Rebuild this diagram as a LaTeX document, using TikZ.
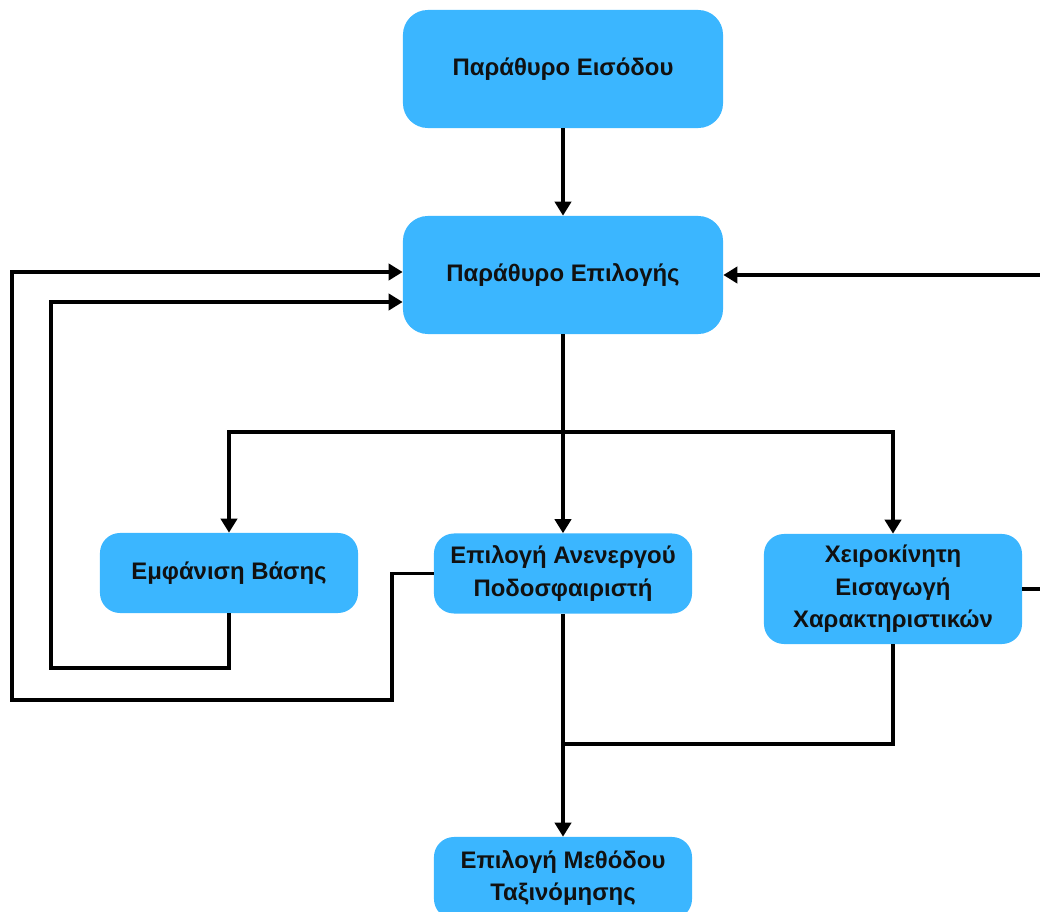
\documentclass[tikz,border=0pt]{standalone}
\usepackage{fontspec}
\setmainfont{Liberation Sans}
\usetikzlibrary{arrows.meta,calc}
\definecolor{boxblue}{RGB}{59,182,255}
\definecolor{ink}{RGB}{17,17,17}

\begin{document}
\begin{tikzpicture}[x=0.025cm,y=-0.025cm,
  box/.style={fill=boxblue, draw=none, rounded corners=0.5cm, align=center,
    text=ink, font=\fontsize{17}{23}\selectfont\bfseries,
    minimum width=6.45cm, minimum height=2cm, inner sep=2pt},
  bigbox/.style={box, rounded corners=0.62cm, minimum width=8cm, minimum height=2.95cm},
  link/.style={draw=black, line width=2.5pt},
  arr/.style={link, -{Triangle[length=10pt,width=11.5pt]}}]
\useasboundingbox (0,0) rectangle (1040,912);
\clip (0,0) rectangle (1040,912);

\node[bigbox] (entry) at (563,69) {Παράθυρο Εισόδου};
\node[bigbox] (select) at (563,275) {Παράθυρο Επιλογής};
\node[box] (base) at (229,573) {Εμφάνιση Βάσης};
\node[box] (inactive) at (563,573.5) {Επιλογή Ανενεργού\\Ποδοσφαιριστή};
\node[box, minimum height=2.75cm] (manual) at (893,589) {Χειροκίνητη\\Εισαγωγή\\Χαρακτηριστικών};
\node[box, minimum height=2.05cm] (method) at (563,878) {Επιλογή Μεθόδου\\Ταξινόμησης};

\coordinate (split) at (563,432);
\coordinate (merge) at (563,744);

\draw[arr] (entry) -- (select);
\draw[arr] (select) -- (inactive);
\draw[arr] (split) -| (base);
\draw[arr] (split) -| (manual);
\draw[arr] (base.south) |- (51,668) |- ($(select.west)+(0,27)$);
\draw[arr] (inactive.west) -- (392,573.5) |- (12,700) |- ($(select.west)+(0,-3)$);
\draw[arr] (manual.east) -- ++(40,0) |- (select.east);
\draw[arr] (inactive) -- (method);
\draw[link] (manual.south) |- (merge);
\end{tikzpicture}
\end{document}
